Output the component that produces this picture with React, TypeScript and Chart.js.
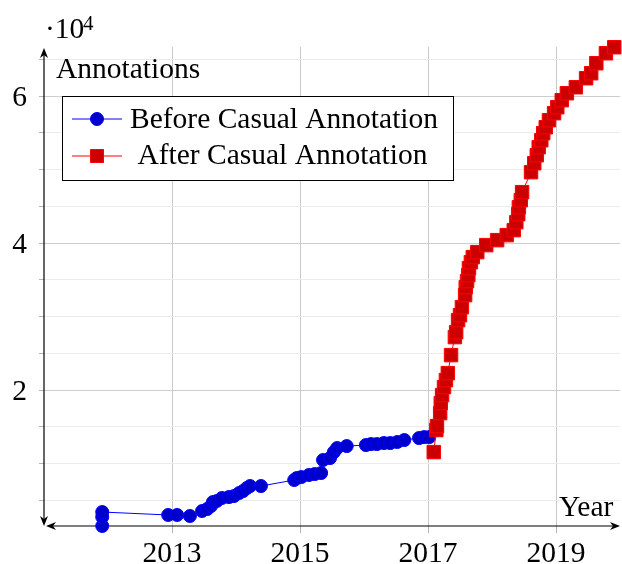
import React, { useEffect, useRef } from "react";
import { Chart, registerables } from "chart.js";

Chart.register(...registerables);

// ---- data ----
const beforeYears = [
  2011.91, 2011.91, 2011.91, 2012.94, 2013.08, 2013.28, 2013.47, 2013.55, 2013.61, 2013.64,
  2013.7, 2013.78, 2013.89, 2013.97, 2014.05, 2014.11, 2014.17, 2014.22, 2014.39, 2014.91,
  2014.95, 2015.02, 2015.14, 2015.23, 2015.33, 2015.36, 2015.47, 2015.53, 2015.58, 2015.73,
  2016.03, 2016.11, 2016.2, 2016.31, 2016.41, 2016.52, 2016.63, 2016.86, 2016.94, 2017.02,
];
const beforeValues = [
  1500, 2720, 3400, 3000, 3000, 2860, 3540, 3810, 4220, 4760,
  4900, 5310, 5440, 5580, 5990, 6260, 6670, 6940, 6940, 7760,
  8030, 8160, 8440, 8570, 8710, 10480, 10750, 11560, 12110, 12380,
  12520, 12650, 12650, 12790, 12790, 12930, 13200, 13470, 13600, 13600,
];
const afterYears = [
  2017.09, 2017.13, 2017.14, 2017.19, 2017.2, 2017.22, 2017.25, 2017.28, 2017.31, 2017.36,
  2017.42, 2017.44, 2017.47, 2017.5, 2017.53, 2017.58, 2017.59, 2017.61, 2017.63, 2017.64,
  2017.67, 2017.7, 2017.77, 2017.91, 2018.08, 2018.23, 2018.34, 2018.38, 2018.41, 2018.42,
  2018.45, 2018.47, 2018.61, 2018.66, 2018.7, 2018.73, 2018.77, 2018.8, 2018.84, 2018.89,
  2018.97, 2019.02, 2019.09, 2019.17, 2019.31, 2019.47, 2019.55, 2019.63, 2019.78, 2019.91,
];
const afterValues = [
  11560, 14560, 15100, 16870, 18230, 19320, 20410, 21360, 22310, 24760,
  27210, 27890, 29520, 30200, 31290, 32930, 34010, 34830, 35650, 36600,
  37410, 38100, 38780, 39730, 40410, 41090, 41770, 42860, 43950, 44900,
  45850, 46940, 49660, 50880, 51970, 53060, 54010, 54970, 55780, 56730,
  57690, 58500, 59460, 60410, 61220, 62450, 63130, 64490, 65850, 66670,
];
const seriesNames = ["Before Casual Annotation", " After Casual Annotation"];
const xTickYears = [2013, 2015, 2017, 2019];
const xTickTexts = ["2013", "2015", "2017", "2019"];
const yGridValues = [5000, 10000, 15000, 20000, 25000, 30000, 35000, 40000, 45000, 50000, 55000, 60000, 65000];
const yLabelValues = [20000, 40000, 60000];
const yLabelTexts = ["2", "4", "6"];
const xRange = [2011, 2020];
const yRange = [1500, 66700];

const FONT = '"Liberation Serif", "DejaVu Serif", serif';
const FS = 29.5;
const BLUE_LINE = "#0000ff";
const BLUE_FILL = "#0000cc";
const RED_LINE = "#ff0000";
const RED_FILL = "#cc0000";

function arrow(ctx: CanvasRenderingContext2D, tx: number, ty: number, dx: number, dy: number) {
  const len = 10;
  const half = 4;
  const px = -dy, py = dx;
  const bx = tx - dx * len, by = ty - dy * len;
  const nx = tx - dx * (len - 3), ny = ty - dy * (len - 3);
  ctx.beginPath();
  ctx.moveTo(tx, ty);
  ctx.lineTo(bx + px * half, by + py * half);
  ctx.lineTo(nx, ny);
  ctx.lineTo(bx - px * half, by - py * half);
  ctx.closePath();
  ctx.fill();
}

const decorPlugin = {
  id: "decor",
  beforeDatasetsDraw(chart: any) {
    const ctx: CanvasRenderingContext2D = chart.ctx;
    const { left, right, top, bottom } = chart.chartArea;
    ctx.save();
    ctx.strokeStyle = "#000";
    ctx.fillStyle = "#000";
    ctx.lineWidth = 1.2;
    // y axis
    ctx.beginPath();
    ctx.moveTo(left, bottom - 4);
    ctx.lineTo(left, top + 4);
    ctx.stroke();
    arrow(ctx, left, top + 1, 0, -1);
    arrow(ctx, left, bottom, 0, 1);
    // x axis
    ctx.beginPath();
    ctx.moveTo(left + 6, bottom);
    ctx.lineTo(right - 4, bottom);
    ctx.stroke();
    arrow(ctx, left + 2, bottom, -1, 0);
    arrow(ctx, right, bottom, 1, 0);
    ctx.restore();
  },
  afterDraw(chart: any) {
    const ctx: CanvasRenderingContext2D = chart.ctx;
    const xs = chart.scales.x;
    const ys = chart.scales.y;
    ctx.save();
    ctx.fillStyle = "#000";
    ctx.textBaseline = "alphabetic";
    ctx.font = `${FS}px ${FONT}`;
    // tick labels
    ctx.textAlign = "center";
    xTickYears.forEach((v, i) => {
      ctx.fillText(xTickTexts[i], xs.getPixelForValue(v), 562);
    });
    ctx.textAlign = "right";
    yLabelValues.forEach((v, i) => {
      ctx.fillText(yLabelTexts[i], 27, ys.getPixelForValue(v) + 10);
    });
    // axis labels
    ctx.textAlign = "left";
    ctx.fillText("Annotations", 56, 78);
    ctx.fillText("Year", 559, 516);
    ctx.fillText("\u00b710", 45, 38);
    ctx.font = `21px ${FONT}`;
    ctx.fillText("4", 83, 30);

    // legend
    const lx = 62.5, ly = 96.5, lw = 391, lh = 84;
    ctx.fillStyle = "#fff";
    ctx.fillRect(lx, ly, lw, lh);
    ctx.strokeStyle = "#000";
    ctx.lineWidth = 1;
    ctx.strokeRect(lx, ly, lw, lh);

    const rows = [
      { y: 119, line: BLUE_LINE, fill: BLUE_FILL, shape: "circle", base: 128 },
      { y: 156, line: RED_LINE, fill: RED_FILL, shape: "rect", base: 164 },
    ];
    rows.forEach((r, i) => {
      ctx.strokeStyle = r.line;
      ctx.lineWidth = 1;
      ctx.beginPath();
      ctx.moveTo(72, r.y);
      ctx.lineTo(122, r.y);
      ctx.stroke();
      ctx.fillStyle = r.fill;
      ctx.beginPath();
      if (r.shape === "circle") ctx.arc(97, r.y, 6.5, 0, Math.PI * 2);
      else ctx.rect(97 - 6.5, r.y - 6.5, 13, 13);
      ctx.fill();
      ctx.stroke();
      ctx.fillStyle = "#000";
      ctx.font = `${FS}px ${FONT}`;
      ctx.fillText(seriesNames[i], 130, r.base);
    });
    ctx.restore();
  },
};

export default function App() {
  const ref = useRef<HTMLCanvasElement | null>(null);
  useEffect(() => {
    if (!ref.current) return;
    const chart = new Chart(ref.current, {
      type: "line",
      data: {
        datasets: [
          {
            label: seriesNames[0],
            data: beforeYears.map((x, i) => ({ x, y: beforeValues[i] })),
            borderColor: BLUE_LINE,
            backgroundColor: BLUE_FILL,
            borderWidth: 1,
            pointRadius: 6.5,
            pointBorderWidth: 1,
            pointBorderColor: BLUE_LINE,
            pointBackgroundColor: BLUE_FILL,
            pointStyle: "circle",
            tension: 0,
            clip: false as any,
            order: 1,
          },
          {
            label: seriesNames[1],
            data: afterYears.map((x, i) => ({ x, y: afterValues[i] })),
            borderColor: RED_LINE,
            backgroundColor: RED_FILL,
            borderWidth: 1,
            pointRadius: 9.5,
            pointBorderWidth: 1,
            pointBorderColor: RED_LINE,
            pointBackgroundColor: RED_FILL,
            pointStyle: "rect",
            tension: 0,
            clip: false as any,
            order: 0,
          },
        ],
      },
      options: {
        responsive: false,
        animation: false,
        layout: { autoPadding: false, padding: { top: 47, right: 2, left: 0, bottom: 0 } },
        plugins: { legend: { display: false }, tooltip: { enabled: false } },
        scales: {
          x: {
            type: "linear",
            min: xRange[0],
            max: xRange[1],
            afterBuildTicks: (scale: any) => {
              scale.ticks = xTickYears.map((v) => ({ value: v }));
            },
            afterFit: (scale: any) => {
              scale.height = 38;
              scale.paddingLeft = 0;
              scale.paddingRight = 0;
            },
            border: { display: false },
            grid: { color: "#c8c8c8", lineWidth: 1, tickLength: 7, tickColor: "#b4b4b4" },
            ticks: { display: false },
          },
          y: {
            type: "linear",
            min: yRange[0],
            max: yRange[1],
            afterBuildTicks: (scale: any) => {
              scale.ticks = yGridValues.map((v) => ({ value: v }));
            },
            afterFit: (scale: any) => {
              scale.width = 44;
              scale.paddingTop = 0;
              scale.paddingBottom = 0;
            },
            border: { display: false },
            grid: {
              color: (c: any) => (c.tick && yLabelValues.includes(c.tick.value) ? "#cdcdcd" : "#ececec"),
              tickColor: "#b4b4b4",
              lineWidth: 1,
              tickLength: 5,
            },
            ticks: { display: false },
          },
        },
      },
      plugins: [decorPlugin],
    });
    return () => chart.destroy();
  }, []);
  return (
    <div style={{ position: "absolute", left: 0, top: 0, width: 622, height: 564, background: "#fff" }}>
      <canvas ref={ref} width={622} height={564} style={{ display: "block" }} />
    </div>
  );
}
